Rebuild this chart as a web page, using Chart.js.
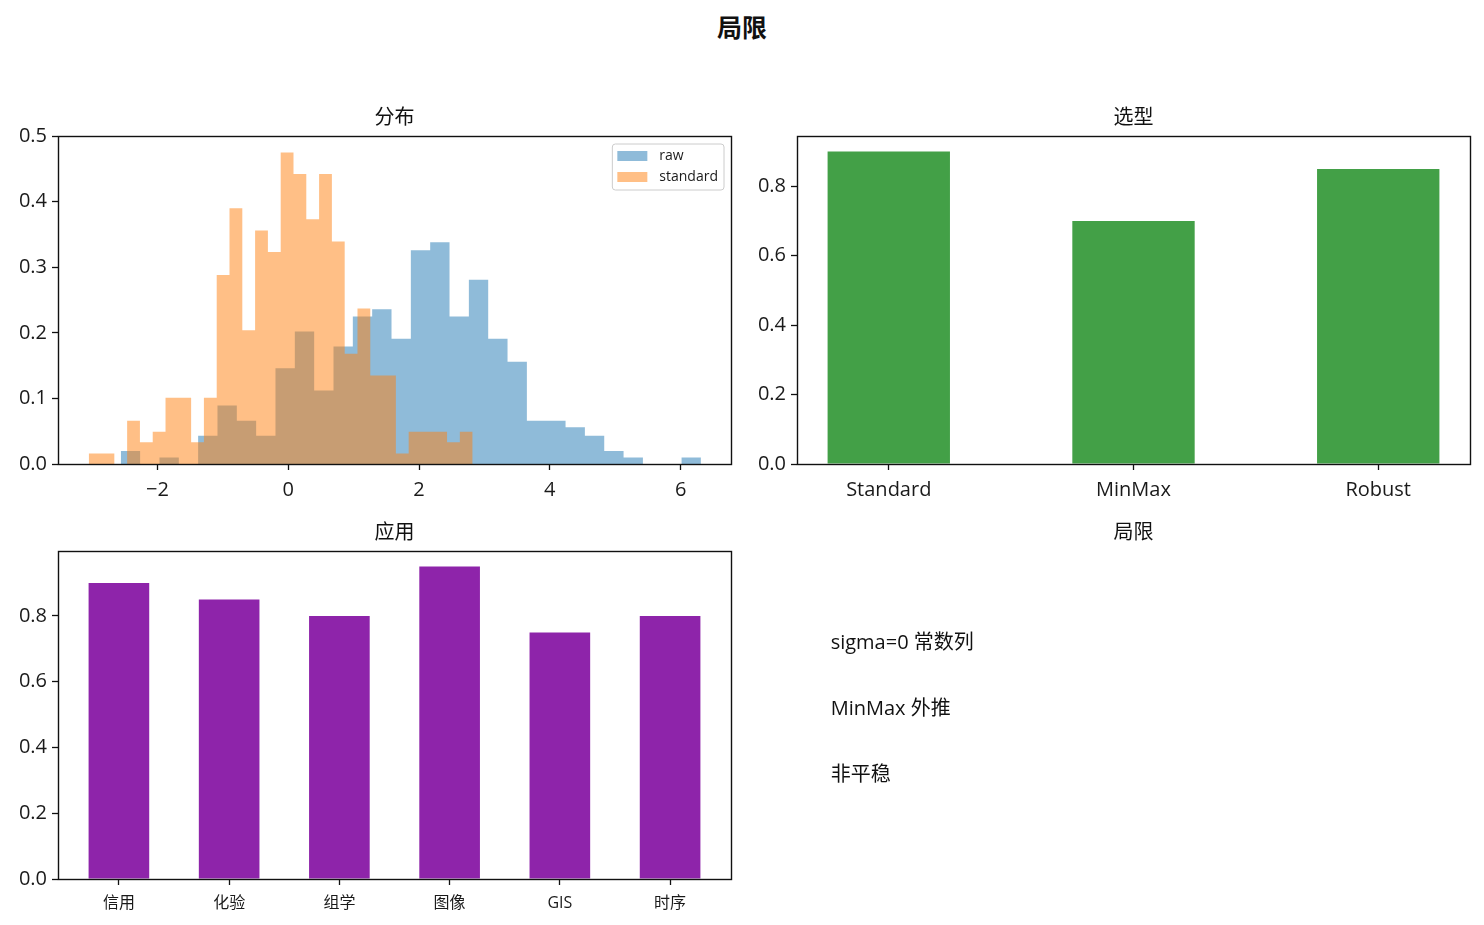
<!DOCTYPE html>
<html>
<head>
<meta charset="utf-8">
<title>局限</title>
<script src="https://cdn.jsdelivr.net/npm/chart.js@4.4.0/dist/chart.umd.min.js"></script>
<style>
  body { margin: 0; width: 1484px; height: 925px; background: #fff; position: relative; overflow: hidden; }
  .panel { position: absolute; }
  #suptitle {
    position: absolute; left: 0; top: 10px; width: 1484px; text-align: center;
    font: bold 25px 'Noto Sans CJK SC', sans-serif; line-height: 32px; color: #111;
  }
</style>
</head>
<body>
<div id="suptitle">局限</div>
<div class="panel" style="left:0;top:100px;width:740px;height:416px"><canvas id="histChart"></canvas></div>
<div class="panel" style="left:739px;top:100px;width:740px;height:416px"><canvas id="scalerChart"></canvas></div>
<div class="panel" style="left:0;top:515px;width:740px;height:410px"><canvas id="appChart"></canvas></div>
<div class="panel" style="left:739px;top:515px;width:740px;height:410px"><canvas id="limitChart"></canvas></div>
<script>
/************************
 *      Data
 ************************/
const HIST_LABELS = ["raw", "standard"]
// histogram range (first and last bin edge) and density per bin, 30 bins each
const RAW_RANGE = [-2.56, 6.31]
const RAW_DENSITY = [0.020, 0, 0.010, 0, 0.043, 0.089, 0.066, 0.043, 0.146, 0.202,
                     0.112, 0.179, 0.225, 0.236, 0.191, 0.326, 0.338, 0.225, 0.281, 0.191,
                     0.156, 0.066, 0.066, 0.056, 0.043, 0.020, 0.010, 0, 0, 0.010]
const STD_RANGE = [-3.05, 2.82]
const STD_DENSITY = [0.016, 0.016, 0, 0.066, 0.033, 0.049, 0.101, 0.101, 0.033, 0.101,
                     0.288, 0.390, 0.204, 0.356, 0.323, 0.475, 0.442, 0.373, 0.442, 0.339,
                     0.168, 0.237, 0.135, 0.135, 0.016, 0.049, 0.049, 0.049, 0.033, 0.049]
const HIST_X_TICKS = [-2, 0, 2, 4, 6]
const HIST_Y_TICKS = [0, 0.1, 0.2, 0.3, 0.4, 0.5]

const SCALER_CATS = ["Standard", "MinMax", "Robust"]
const SCALER_VALS = [0.9, 0.7, 0.85]
const SCALER_Y_TICKS = [0, 0.2, 0.4, 0.6, 0.8]

const APP_CATS = ["信用", "化验", "组学", "图像", "GIS", "时序"]
const APP_VALS = [0.9, 0.85, 0.8, 0.95, 0.75, 0.8]
const APP_Y_TICKS = [0, 0.2, 0.4, 0.6, 0.8]

const LIMIT_NOTES = ["sigma=0 常数列", "MinMax 外推", "非平稳"]

/************************
 *      Style
 ************************/
const FONT = "'Open Sans', 'Noto Sans CJK SC', sans-serif"
const AXIS_COLOR = "#111"
const RAW_COLOR = "rgba(31,119,180,0.5)"
const STD_COLOR = "rgba(255,127,14,0.5)"
const SCALER_COLOR = "#43a047"
const APP_COLOR = "#8e24aa"

Chart.defaults.font.family = FONT
Chart.defaults.color = "#1a1a1a"
Chart.defaults.animation = false
Chart.defaults.plugins.legend.display = false
Chart.defaults.plugins.tooltip.enabled = false

/************************
 *      Helpers
 ************************/
// points on bin edges, stepped line gives histogram outline
const stepPoints = (range, density) => {
    const w = (range[1] - range[0]) / density.length
    const pts = density.map((d, i) => ({ x: range[0] + i * w, y: d }))
    pts.push({ x: range[1], y: 0 })
    return pts
}

const fixTicks = (values) => (scale) => { scale.ticks = values.map(v => ({ value: v })) }

const tickGrid = {
    drawOnChartArea: false, drawTicks: true, tickLength: 6,
    tickWidth: 1.3, tickColor: AXIS_COLOR, color: AXIS_COLOR
}

const subTitle = (text) => ({
    display: true, text: text, fullSize: false, color: "#111",
    font: { size: 20, weight: "normal", lineHeight: 1.2, family: FONT },
    padding: { top: 6, bottom: 6 }
})

const yAxis = (ticks, max) => ({
    min: 0, max: max,
    afterFit: (s) => { s.width = 58 },
    afterBuildTicks: fixTicks(ticks),
    border: { display: false },
    grid: tickGrid,
    ticks: { font: { size: 20 }, padding: 5, callback: v => v.toFixed(1) }
})

const framePlugin = {
    id: "frame",
    afterDatasetsDraw(chart) {
        const { left, top, right, bottom } = chart.chartArea
        const ctx = chart.ctx
        ctx.save()
        ctx.strokeStyle = AXIS_COLOR
        ctx.lineWidth = 1.4
        ctx.strokeRect(Math.round(left) + 0.5, Math.round(top) + 0.5,
                       Math.round(right - left), Math.round(bottom - top))
        ctx.restore()
    }
}

const histLegend = {
    id: "histLegend",
    afterDraw(chart) {
        const ctx = chart.ctx
        const area = chart.chartArea
        const sets = chart.data.datasets
        ctx.save()
        ctx.font = "14px " + FONT
        const textW = Math.max(...sets.map(d => ctx.measureText(d.label).width))
        const pad = 5, swW = 30, swH = 10, gap = 12, rowH = 21
        const boxW = pad + swW + gap + textW + pad + 1
        const boxH = rowH * sets.length + 4
        const x0 = area.right - 7 - boxW
        const y0 = area.top + 8
        ctx.beginPath()
        ctx.roundRect(x0, y0, boxW, boxH, 3)
        ctx.fillStyle = "rgba(255,255,255,0.8)"
        ctx.fill()
        ctx.strokeStyle = "#cccccc"
        ctx.lineWidth = 1
        ctx.stroke()
        sets.forEach((d, i) => {
            const cy = y0 + 12 + i * rowH
            ctx.fillStyle = d.backgroundColor
            ctx.fillRect(x0 + pad, cy - swH / 2, swW, swH)
            ctx.fillStyle = "#1a1a1a"
            ctx.textBaseline = "middle"
            ctx.textAlign = "left"
            ctx.fillText(d.label, x0 + pad + swW + gap, cy)
        })
        ctx.restore()
    }
}

const notesPlugin = {
    id: "notes",
    afterDraw(chart) {
        const ctx = chart.ctx
        const { left, right, top, bottom } = chart.chartArea
        const fracY = [0.7, 0.5, 0.3]
        ctx.save()
        ctx.font = "20px " + FONT
        ctx.fillStyle = "#111"
        ctx.textBaseline = "alphabetic"
        ctx.textAlign = "left"
        LIMIT_NOTES.forEach((t, i) => {
            ctx.fillText(t, left + 0.05 * (right - left), bottom - fracY[i] * (bottom - top))
        })
        ctx.restore()
    }
}

/************************
 *      Charts
 ************************/
const histChart = () => {
    new Chart("histChart", {
        type: "line",
        data: {
            datasets: [
                { label: HIST_LABELS[0], data: stepPoints(RAW_RANGE, RAW_DENSITY), order: 1,
                  backgroundColor: RAW_COLOR },
                { label: HIST_LABELS[1], data: stepPoints(STD_RANGE, STD_DENSITY), order: 0,
                  backgroundColor: STD_COLOR }
            ].map(d => Object.assign(d, {
                stepped: "before", fill: "origin", pointRadius: 0,
                borderWidth: 0, borderColor: "rgba(0,0,0,0)", tension: 0
            }))
        },
        options: {
            responsive: true, maintainAspectRatio: false,
            layout: { padding: { right: 9 } },
            scales: {
                x: {
                    type: "linear", min: -3.52, max: 6.77, offset: false,
                    afterFit: (s) => { s.height = 52 },
                    afterBuildTicks: fixTicks(HIST_X_TICKS),
                    border: { display: false },
                    grid: tickGrid,
                    ticks: { font: { size: 20 }, padding: 8, maxRotation: 0,
                             callback: v => (v < 0 ? "\u2212" + Math.abs(v) : String(v)) }
                },
                y: yAxis(HIST_Y_TICKS, 0.5)
            },
            plugins: { title: subTitle("分布") }
        },
        plugins: [framePlugin, histLegend]
    })
}

const barChart = (id, cats, vals, color, pct, yTicks, yMax, xMin, xMax, title, labelSize, labelPad, xHeight) => {
    new Chart(id, {
        type: "bar",
        data: {
            datasets: [{
                data: vals.map((v, i) => ({ x: i, y: v })),
                backgroundColor: color, borderWidth: 0,
                barPercentage: pct, categoryPercentage: 1
            }]
        },
        options: {
            responsive: true, maintainAspectRatio: false,
            layout: { padding: { right: 9 } },
            scales: {
                x: {
                    type: "linear", min: xMin, max: xMax, offset: false,
                    afterFit: (s) => { s.height = xHeight },
                    afterBuildTicks: fixTicks(cats.map((c, i) => i)),
                    border: { display: false },
                    grid: Object.assign({ offset: false }, tickGrid),
                    ticks: { font: { size: labelSize }, padding: labelPad, maxRotation: 0,
                             callback: v => cats[v] }
                },
                y: yAxis(yTicks, yMax)
            },
            plugins: { title: subTitle(title) }
        },
        plugins: [framePlugin]
    })
}

const limitChart = () => {
    new Chart("limitChart", {
        type: "bar",
        data: { labels: [], datasets: [] },
        options: {
            responsive: true, maintainAspectRatio: false,
            layout: { padding: { left: 58, right: 9, bottom: 46 } },
            scales: { x: { display: false }, y: { display: false } },
            plugins: { title: subTitle("局限") }
        },
        plugins: [notesPlugin]
    })
}

histChart()
barChart("scalerChart", SCALER_CATS, SCALER_VALS, SCALER_COLOR, 0.5, SCALER_Y_TICKS, 0.945,
         -0.375, 2.375, "选型", 20, 8, 52)
barChart("appChart", APP_CATS, APP_VALS, APP_COLOR, 0.55, APP_Y_TICKS, 0.9975,
         -0.5525, 5.5525, "应用", 16, 9, 46)
limitChart()
</script>
</body>
</html>
